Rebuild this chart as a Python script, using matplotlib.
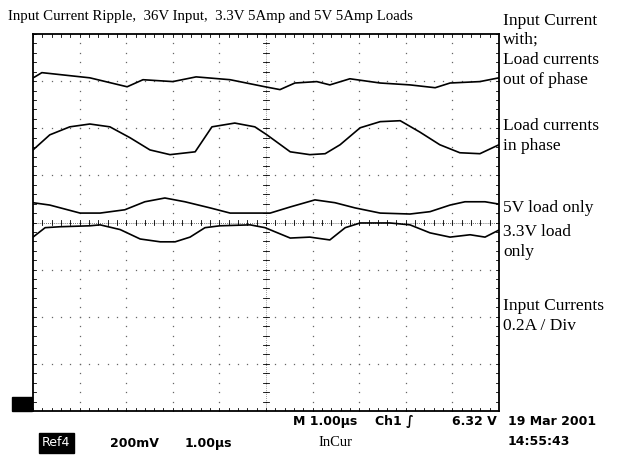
import numpy as np
import matplotlib
matplotlib.use('Agg')
import matplotlib.pyplot as plt
from matplotlib.patches import Rectangle

# Traces: time in us (1 us/div), level in divisions (0.2 A/div)
t_out = [0.0, 0.04, 0.19, 1.22, 2.02, 2.36, 3.00, 3.50, 4.23, 4.98, 5.30, 5.62, 6.09,
         6.37, 6.80, 7.45, 8.09, 8.63, 8.95, 9.59, 10.0]
i_out = [7.07, 7.09, 7.18, 7.07, 6.88, 7.03, 6.99, 7.09, 7.03, 6.88, 6.82, 6.96, 6.99,
         6.92, 7.05, 6.96, 6.92, 6.86, 6.96, 6.99, 7.07]

t_in = [0.0, 0.36, 0.79, 1.22, 1.65, 2.08, 2.51, 2.94, 3.48, 3.84, 4.33, 4.76, 5.02,
        5.52, 5.94, 6.27, 6.59, 7.02, 7.45, 7.88, 8.30, 8.73, 9.16, 9.59, 10.0]
i_in = [5.54, 5.86, 6.03, 6.09, 6.03, 5.80, 5.54, 5.44, 5.50, 6.03, 6.11, 6.03, 5.86,
        5.50, 5.44, 5.46, 5.65, 6.01, 6.14, 6.16, 5.92, 5.65, 5.48, 5.46, 5.65]

t_5v = [0.0, 0.36, 1.01, 1.44, 1.97, 2.40, 2.83, 3.26, 3.80, 4.23, 4.87, 5.09, 5.52,
        6.05, 6.48, 6.91, 7.45, 8.09, 8.52, 8.95, 9.27, 9.70, 10.0]
i_5v = [4.42, 4.37, 4.20, 4.20, 4.27, 4.44, 4.52, 4.44, 4.31, 4.20, 4.20, 4.20, 4.33,
        4.48, 4.42, 4.31, 4.20, 4.18, 4.23, 4.37, 4.44, 4.44, 4.39]

t_33v = [0.0, 0.26, 0.58, 1.22, 1.44, 1.87, 2.30, 2.73, 3.05, 3.37, 3.69, 4.01, 4.66,
         4.98, 5.52, 5.94, 6.37, 6.70, 7.02, 7.66, 8.09, 8.52, 8.95, 9.38, 9.70, 10.0]
i_33v = [3.69, 3.89, 3.91, 3.93, 3.95, 3.85, 3.65, 3.59, 3.59, 3.69, 3.89, 3.93, 3.95,
         3.89, 3.67, 3.69, 3.63, 3.89, 3.99, 3.99, 3.95, 3.78, 3.69, 3.74, 3.69, 3.84]

W, H = 618, 457
fig = plt.figure(figsize=(W / 100, H / 100), dpi=100)
ax = fig.add_axes([33 / W, 1 - 411 / H, 466 / W, 377 / H])
ax.set_xlim(0, 10)
ax.set_ylim(0, 8)
ax.set_xticks([])
ax.set_yticks([])
for s in ax.spines.values():
    s.set_linewidth(1.3)

# graticule dots
sub = np.arange(0, 10.01, 0.2)
subv = np.arange(0, 8.01, 0.2)
for gx in range(1, 10):
    ax.plot(np.full_like(subv, gx), subv, ls='none', marker='s', ms=0.9, color='#666666', mew=0)
for gy in range(1, 8):
    ax.plot(sub, np.full_like(sub, gy), ls='none', marker='s', ms=0.9, color='#666666', mew=0)

# centre cross and edge ticks
tl = 0.07
ax.plot([5, 5], [0, 8], color='#444444', lw=0.5, ls=(0, (1, 2)))
ax.plot([0, 10], [4, 4], color='#444444', lw=0.6, ls=(0, (1, 1.5)))
for v in subv:
    ax.plot([5 - tl, 5 + tl], [v, v], color='k', lw=0.6)
    ax.plot([0, tl], [v, v], color='k', lw=0.6)
    ax.plot([10 - tl, 10], [v, v], color='k', lw=0.6)
for u in sub:
    ax.plot([u, u], [4 - tl * 0.8, 4 + tl * 0.8], color='k', lw=0.6)
    ax.plot([u, u], [0, tl * 0.8], color='k', lw=0.6)
    ax.plot([u, u], [8 - tl * 0.8, 8], color='k', lw=0.6)

# traces
for t, i in [(t_out, i_out), (t_in, i_in), (t_5v, i_5v), (t_33v, i_33v)]:
    ax.plot(t, i, color='k', lw=1.2)

# reference marker
ax.add_patch(Rectangle((-0.45, 0.0), 0.43, 0.3, color='k', clip_on=False))


def px(x, y):
    return x / W, 1 - y / H


serif = 'Liberation Serif'
fig.text(*px(8, 20), 'Input Current Ripple,  36V Input,  3.3V 5Amp and 5V 5Amp Loads',
         family=serif, fontsize=10.7, va='baseline')

right_labels = [
    ('Input Current', 25), ('with;', 44), ('Load currents', 64), ('out of phase', 84),
    ('Load currents', 130), ('in phase', 150), ('5V load only', 212),
    ('3.3V load', 236), ('only', 256), ('Input Currents', 310), ('0.2A / Div', 330),
]
for txt, yb in right_labels:
    fig.text(*px(503, yb), txt, family=serif, fontsize=12.5, va='baseline')

sans = dict(family='DejaVu Sans', fontweight='bold', fontsize=9, va='baseline')
fig.text(*px(293, 425), 'M 1.00µs', **sans)
fig.text(*px(375, 425), 'Ch1 ∫', **sans)
fig.text(*px(497, 425), '6.32 V', ha='right', **sans)
fig.text(*px(508, 425), '19 Mar 2001', **sans)
fig.text(*px(508, 445), '14:55:43', **sans)
fig.text(*px(110, 447), '200mV', **sans)
fig.text(*px(185, 447), '1.00µs', **sans)
fig.text(*px(318, 446), 'InCur', family=serif, fontsize=10.5, va='baseline')
fig.text(*px(42, 446), 'Ref4', family='DejaVu Sans', fontsize=9, color='white', va='baseline',
         bbox=dict(facecolor='black', edgecolor='black', pad=2.5))

fig.savefig('out.png', dpi=100)
